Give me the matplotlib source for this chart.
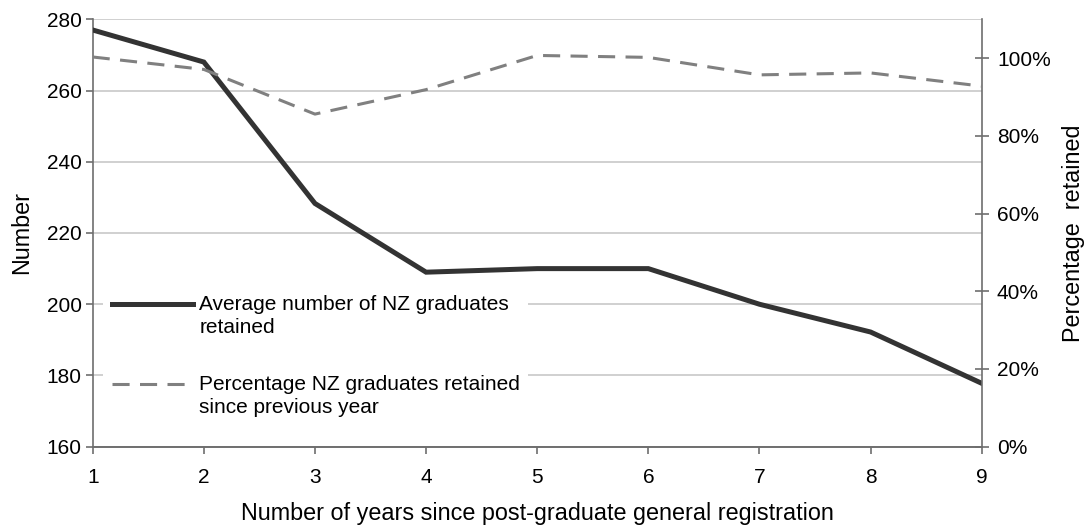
import matplotlib
matplotlib.use("Agg")
import numpy as np
import matplotlib.pyplot as plt
from matplotlib.legend_handler import HandlerLine2D
from matplotlib.ticker import PercentFormatter

# --- Data ---
years = [1, 2, 3, 4, 5, 6, 7, 8, 9]
avg_retained = [277, 268, 228.3, 209, 210, 210, 200, 192.2, 177.8]
pct_retained = [1.003, 0.971, 0.856, 0.919, 1.007, 1.002, 0.957, 0.962, 0.928]

label_avg = "Average number of NZ graduates\nretained"
label_pct = "Percentage NZ graduates retained\nsince previous year"

plt.rcParams["font.family"] = ["Liberation Sans", "DejaVu Sans"]


class FirstLineHandler(HandlerLine2D):
    """Legend handle lined up with the first text line (Excel style)."""

    def create_artists(self, legend, orig_handle, xdescent, ydescent,
                       width, height, fontsize, trans):
        artists = super().create_artists(legend, orig_handle, xdescent, ydescent,
                                         width, height, fontsize, trans)
        for a in artists:
            a.set_ydata(np.asarray(a.get_ydata()) + 0.6 * fontsize)
        return artists


fig = plt.figure(figsize=(10.91, 5.32), dpi=100)
# plot area in pixels: left 92.7, right 981.7, top 19.3, bottom 446.7
ax = fig.add_axes([92.7 / 1091, 1 - 446.7 / 532, 889 / 1091, 427.4 / 532])
ax2 = ax.twinx()

spine_col = "#6e6e6e"
grid_col = "#c8c8c8"
fs_tick = 15
fs_label = 16.8

# 1. Primary axis: average number retained
line1, = ax.plot(years, avg_retained, color="#333333", lw=3.6,
                 solid_joinstyle="miter", zorder=3)
ax.set_xlim(1, 9)
ax.set_ylim(160, 280)
ax.set_yticks(range(160, 281, 20))
ax.set_xticks(years)
ax.yaxis.grid(True, color=grid_col, lw=1.2)
ax.set_axisbelow(True)

# 2. Secondary axis: percentage retained since previous year
line2, = ax2.plot(years, pct_retained, color="#808080", lw=2.2,
                  dashes=(5.6, 3.4), zorder=3)
ax2.set_ylim(0, 1.1)
ax2.set_yticks([0, 0.2, 0.4, 0.6, 0.8, 1.0])
ax2.yaxis.set_major_formatter(PercentFormatter(1.0, decimals=0))

for a in (ax, ax2):
    for side in ("left", "right", "bottom"):
        a.spines[side].set_color(spine_col)
        a.spines[side].set_linewidth(1.2)
    a.spines["top"].set_visible(False)
ax.spines["right"].set_visible(False)
ax2.spines["left"].set_visible(False)

ax.tick_params(axis="y", direction="out", length=5, width=1.2, color=spine_col,
               labelsize=fs_tick, pad=3)
ax.tick_params(axis="x", direction="out", length=5, width=1.2, color=spine_col,
               labelsize=fs_tick, pad=10)
ax2.tick_params(axis="y", direction="inout", length=10, width=1.2, color=spine_col,
                labelsize=fs_tick, pad=6)

ax.set_xlabel("Number of years since post-graduate general registration",
              fontsize=fs_label, labelpad=11)
ax.set_ylabel("Number", fontsize=fs_label, labelpad=10)
ax2.set_ylabel("Percentage  retained", fontsize=fs_label, labelpad=8)

# 3. Legend inside the plot, white box without border
leg = ax2.legend([line1, line2], [label_avg, label_pct],
                 loc="upper left", bbox_to_anchor=(0.012, 0.375),
                 fontsize=fs_tick, frameon=True, facecolor="white",
                 edgecolor="none", framealpha=1.0, fancybox=False,
                 handlelength=3.9, handletextpad=0.3, labelspacing=1.8,
                 borderpad=0.4, borderaxespad=0,
                 handler_map={line1: FirstLineHandler(), line2: FirstLineHandler()})
for t in leg.get_texts():
    t.set_linespacing(1.3)
leg.set_zorder(2)

fig.savefig("out.png", dpi=100)
